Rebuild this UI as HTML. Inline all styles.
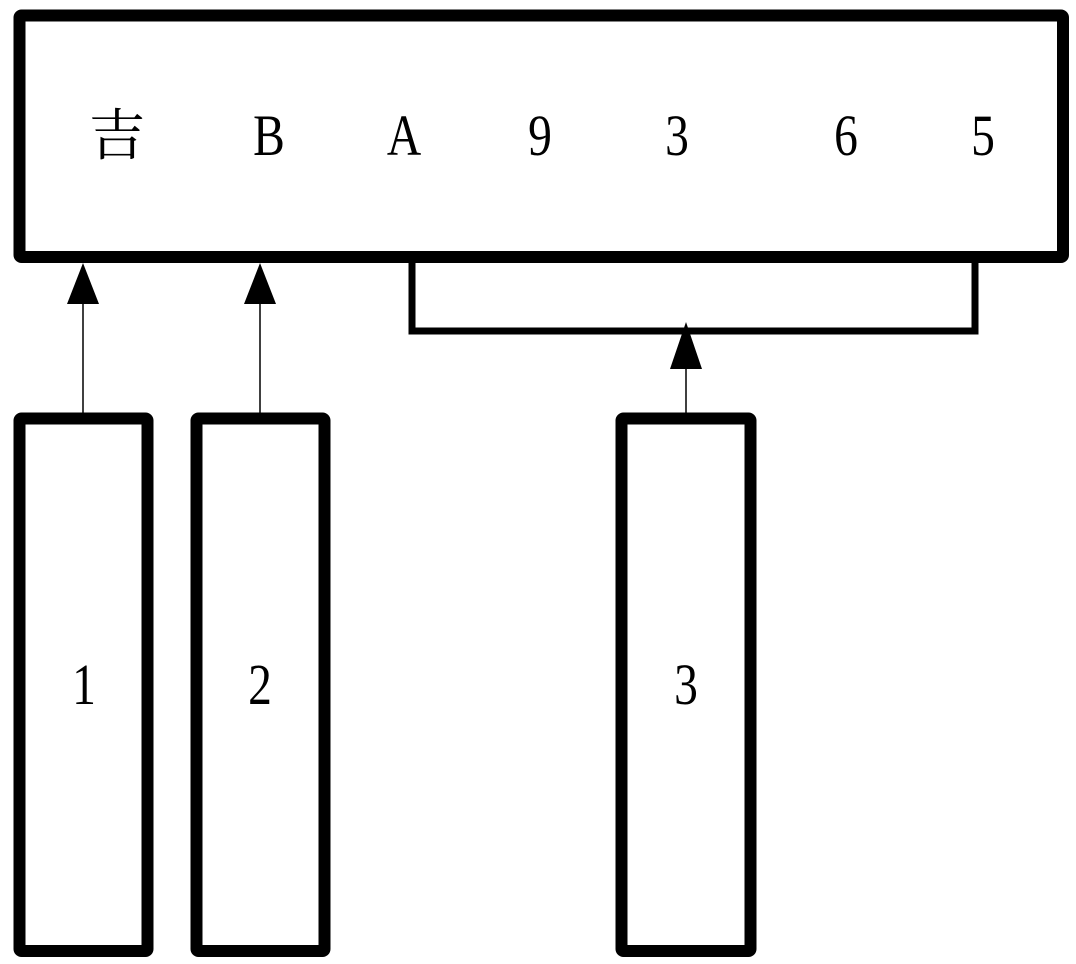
<!DOCTYPE html>
<html><head><meta charset="utf-8"><style>
html,body{margin:0;padding:0;background:#fff;}
svg{display:block}
text{font-family:"Liberation Serif","Noto Serif CJK SC",serif;font-size:58px;fill:#000;}
</style></head><body>
<svg width="1076" height="964" viewBox="0 0 1076 964" xmlns="http://www.w3.org/2000/svg">
<g fill="none" stroke="#000" stroke-width="12" stroke-linejoin="round">
<rect x="19.5" y="15.5" width="1043.5" height="241.5" rx="2"/>
<rect x="19.5" y="418.5" width="128" height="532.5" rx="2"/>
<rect x="196.5" y="418.5" width="128" height="532.5" rx="2"/>
<rect x="621.5" y="418.5" width="129" height="532.5" rx="2"/>
</g>
<polyline points="412,262 412,331 975,331 975,262" fill="none" stroke="#000" stroke-width="7"/>
<g stroke="#000" stroke-width="1.5">
<line x1="83" y1="300" x2="83" y2="413"/>
<line x1="260" y1="300" x2="260" y2="413"/>
<line x1="686" y1="365" x2="686" y2="413"/>
</g>
<polygon points="83,263 67,304 99,304" fill="#000"/>
<polygon points="260,263 244,304 276,304" fill="#000"/>
<polygon points="686,322 670,369 702,369" fill="#000"/>
<g text-anchor="middle">
<text x="117" y="155" style="font-size:56px">吉</text>
<text x="269" y="155" transform="translate(269 0) scale(0.82 1) translate(-269 0)">B</text>
<text x="404" y="155" transform="translate(404 0) scale(0.82 1) translate(-404 0)">A</text>
<text x="540" y="155" transform="translate(540 0) scale(0.82 1) translate(-540 0)">9</text>
<text x="677" y="155" transform="translate(677 0) scale(0.82 1) translate(-677 0)">3</text>
<text x="846" y="155" transform="translate(846 0) scale(0.82 1) translate(-846 0)">6</text>
<text x="983" y="155" transform="translate(983 0) scale(0.82 1) translate(-983 0)">5</text>
<text x="84" y="704" transform="translate(84 0) scale(0.82 1) translate(-84 0)">1</text>
<text x="260" y="704" transform="translate(260 0) scale(0.82 1) translate(-260 0)">2</text>
<text x="686" y="704" transform="translate(686 0) scale(0.82 1) translate(-686 0)">3</text>
</g>
</svg>
</body></html>
